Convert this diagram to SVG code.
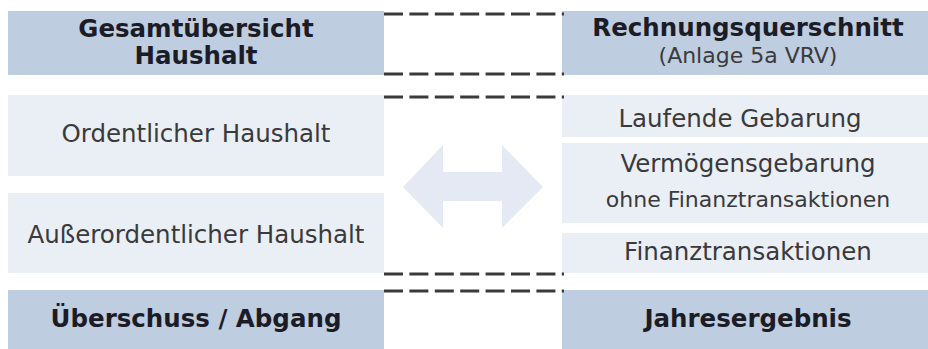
<svg xmlns="http://www.w3.org/2000/svg" width="928" height="349" viewBox="0 0 928 349">
<style>
.hdr{fill:#bfcde0}
.lt{fill:#eaeef5}
.b{font-family:"DejaVu Sans",Verdana,sans-serif;font-weight:bold;font-size:24.5px;fill:#1c1c26;text-anchor:middle}
.r{font-family:"DejaVu Sans",Verdana,sans-serif;font-size:24.5px;fill:#3a3a3c;text-anchor:middle}
.s{font-family:"DejaVu Sans",Verdana,sans-serif;font-size:22px;fill:#3a3a3c;text-anchor:middle}
.d{stroke:#3a3a3a;stroke-width:3;stroke-dasharray:19 6.4;fill:none}
</style>
<rect width="928" height="349" fill="#ffffff"/>
<g id="gesamt">
<rect class="hdr" x="8" y="11" width="376" height="64"/>
<text class="b" x="196" y="37">Gesamtübersicht</text>
<text class="b" x="196" y="64">Haushalt</text>
</g>
<g id="ordentlich">
<rect class="lt" x="8" y="95" width="376" height="81"/>
<text class="r" x="196" y="142">Ordentlicher Haushalt</text>
</g>
<g id="ausserordentlich">
<rect class="lt" x="8" y="193" width="376" height="80"/>
<text class="r" x="196" y="243">Außerordentlicher Haushalt</text>
</g>
<g id="ueberschuss">
<rect class="hdr" x="8" y="290" width="376" height="59"/>
<text class="b" x="196" y="327">Überschuss / Abgang</text>
</g>
<g id="rechnung">
<rect class="hdr" x="562" y="11" width="366" height="64"/>
<text class="b" x="748" y="36">Rechnungsquerschnitt</text>
<text class="s" x="748" y="63">(Anlage 5a VRV)</text>
</g>
<g id="laufend">
<rect class="lt" x="562" y="95" width="366" height="42"/>
<text class="r" x="740" y="127">Laufende Gebarung</text>
</g>
<g id="vermoegen">
<rect class="lt" x="562" y="143" width="366" height="80"/>
<text class="r" x="748" y="172">Vermögensgebarung</text>
<text class="s" x="748" y="207">ohne Finanztransaktionen</text>
</g>
<g id="finanz">
<rect class="lt" x="562" y="233" width="366" height="40"/>
<text class="r" x="748" y="260">Finanztransaktionen</text>
</g>
<g id="jahres">
<rect class="hdr" x="562" y="290" width="366" height="59"/>
<text class="b" x="748" y="327">Jahresergebnis</text>
</g>
<g id="connectors">
<polygon fill="#e4e9f4" points="403,187 443,145 443,172 502,172 502,145 543,187 502,228 502,201 443,201 443,228"/>
<line class="d" x1="384" y1="14" x2="564" y2="14"/>
<line class="d" x1="384" y1="74" x2="564" y2="74"/>
<line class="d" x1="384" y1="97" x2="564" y2="97"/>
<line class="d" x1="384" y1="274" x2="564" y2="274"/>
<line class="d" x1="384" y1="291" x2="564" y2="291"/>
</g>
</svg>
